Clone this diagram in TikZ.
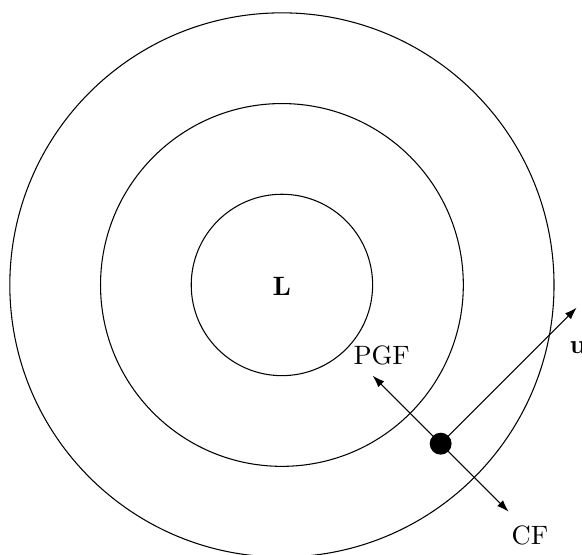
\documentclass[tikz,border=0pt]{standalone}
\usetikzlibrary{arrows.meta}
\begin{document}
\begin{tikzpicture}[
  vec/.style={-{Latex[length=1.6mm,width=1.1mm]}, thin},
  lbl/.style={font=\normalsize}
]
\clip (-3.73,-3.56) rectangle (3.97,3.77);
\useasboundingbox (-3.73,-3.56) rectangle (3.97,3.77);
\draw (0,0) circle (1.2cm);
\draw (0,0) circle (2.4cm);
\draw (0,0) circle (3.6cm);
\node (L) at (0,-0.02) {$\mathbf{L}$};
\node[circle, fill=black, inner sep=0pt, minimum size=0.29cm] (p) at (2.1,-2.1) {};
\coordinate (pgf) at (1.2,-1.2);
\coordinate (cf) at (3.0,-3.0);
\coordinate (u) at (3.9,-0.3);
\draw[vec] (p.center) -- (pgf);
\draw[vec] (p.center) -- (cf);
\draw[vec] (p.center) -- (u);
\node[lbl] (pgfl) at (1.32,-0.93) {PGF};
\node[lbl] (cfl) at (3.28,-3.31) {CF};
\node[lbl] (ul) at (3.92,-0.83) {$\mathbf{u}$};
\end{tikzpicture}
\end{document}
